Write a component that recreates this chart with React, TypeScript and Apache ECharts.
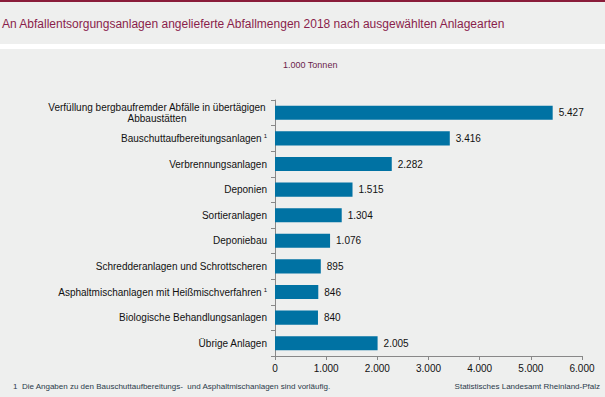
import React, { useEffect, useRef } from "react";
import * as echarts from "echarts";

const categories = [
  "{c|Verfüllung bergbaufremder Abfälle in übertägigen}\n{c|Abbaustätten}",
  "Bauschuttaufbereitungsanlagen{sup|1}",
  "Verbrennungsanlagen",
  "Deponien",
  "Sortieranlagen",
  "Deponiebau",
  "Schredderanlagen und Schrottscheren",
  "Asphaltmischanlagen mit Heißmischverfahren{sup|1}",
  "Biologische Behandlungsanlagen",
  "Übrige Anlagen",
];
const values = [5427, 3416, 2282, 1515, 1304, 1076, 895, 846, 840, 2005];

const titleText = "An Abfallentsorgungsanlagen angelieferte Abfallmengen 2018 nach ausgewählten Anlagearten";
const unitText = "1.000 Tonnen";
const footnoteText = "1  Die Angaben zu den Bauschuttaufbereitungs-  und Asphaltmischanlagen sind vorläufig.";
const sourceText = "Statistisches Landesamt Rheinland-Pfalz";

const fmt = (v: number) => {
  const s = String(Math.round(v));
  return s.replace(/\B(?=(\d{3})+(?!\d))/g, ".");
};

const FONT = "'Liberation Sans', Arial, sans-serif";

export default function App() {
  const ref = useRef<HTMLDivElement>(null);
  useEffect(() => {
    document.body.style.margin = "0";
    const chart = echarts.init(ref.current!, undefined, { renderer: "svg" });
    chart.setOption({
      animation: false,
      backgroundColor: "#eeefee",
      textStyle: { fontFamily: FONT },
      graphic: [
        { type: "rect", left: 0, top: 0, shape: { width: 605, height: 2 }, style: { fill: "#8a1c3a" } },
        { type: "rect", left: 0, top: 44, shape: { width: 605, height: 5 }, style: { fill: "#ffffff" } },
        {
          type: "text", left: 2, top: 18,
          style: { text: titleText, fontSize: 12, fontFamily: FONT, fill: "#8a1e4b" },
        },
        {
          type: "text", left: 283, top: 60,
          style: { text: unitText, fontSize: 9, fontFamily: FONT, fill: "#6a1e4b" },
        },
        {
          type: "text", left: 13, top: 382,
          style: { text: footnoteText, fontSize: 8, fontFamily: FONT, fill: "#2a3a4a" },
        },
        {
          type: "text", right: 5, top: 382,
          style: { text: sourceText, fontSize: 8, fontFamily: FONT, fill: "#2a3a4a" },
        },
      ],
      grid: { left: 275, right: 23, top: 100, bottom: 41 },
      xAxis: {
        type: "value",
        min: 0,
        max: 6000,
        interval: 1000,
        axisLine: { show: true, lineStyle: { color: "#888888" } },
        axisTick: { show: true, length: 4, lineStyle: { color: "#888888" } },
        splitLine: { show: false },
        axisLabel: { formatter: (v: number) => fmt(v), fontSize: 10, color: "#111111", margin: 7, fontFamily: FONT },
      },
      yAxis: {
        type: "category",
        data: categories,
        inverse: true,
        axisLine: { show: true, lineStyle: { color: "#888888" } },
        axisTick: { show: true, length: 4, lineStyle: { color: "#888888" } },
        axisLabel: {
          fontSize: 10,
          color: "#111111",
          margin: 8,
          lineHeight: 11,
          fontFamily: FONT,
          align: "right",
          rich: {
            c: { width: 220, align: "center", fontSize: 10, lineHeight: 11, color: "#111111", fontFamily: FONT },
            sup: { fontSize: 6, verticalAlign: "top", padding: [0, 0, 6, 2], color: "#111111", fontFamily: FONT },
          },
        },
      },
      series: [
        {
          type: "bar",
          data: values,
          barCategoryGap: "45%",
          itemStyle: { color: "#0072a3" },
          label: {
            show: true,
            position: "right",
            distance: 6,
            fontSize: 10,
            color: "#111111",
            fontFamily: FONT,
            formatter: (p: any) => fmt(p.value),
          },
        },
      ],
    });
    return () => chart.dispose();
  }, []);
  return <div ref={ref} style={{ width: 605, height: 397, position: "absolute", left: 0, top: 0 }} />;
}
